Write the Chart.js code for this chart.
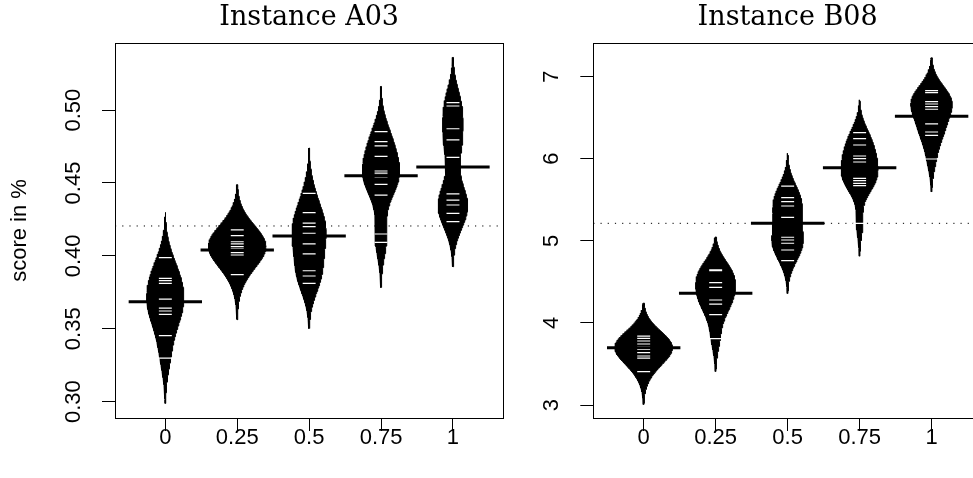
<!DOCTYPE html>
<html>
<head>
<meta charset="utf-8">
<script src="https://cdn.jsdelivr.net/npm/chart.js@4.4.0/dist/chart.umd.min.js"></script>
<style>
  html, body { margin: 0; padding: 0; background: #fff; overflow: hidden; width: 973px; height: 478px; }
  canvas { position: absolute; top: 0; }
  #graficoA { left: 0; }
  #graficoB { left: 530px; }
</style>
</head>
<body>
<canvas id="graficoA" width="530" height="478"></canvas>
<canvas id="graficoB" width="460" height="478"></canvas>
<script>
// categorias do eixo x (mesmas nos dois painéis)
var categorias = ['0', '0.25', '0.5', '0.75', '1'];

var obsA03_0    = [0.3988, 0.3846, 0.3830, 0.3812, 0.3704, 0.3641, 0.3622, 0.3599, 0.3453, 0.3298];
var obsA03_025  = [0.4178, 0.4139, 0.4097, 0.4082, 0.4063, 0.4050, 0.4045, 0.4022, 0.4006, 0.3871];
var obsA03_05   = [0.4429, 0.4296, 0.4224, 0.4200, 0.4155, 0.4082, 0.4013, 0.3898, 0.3862, 0.3812];
var obsA03_075  = [0.4852, 0.4783, 0.4754, 0.4683, 0.4582, 0.4567, 0.4553, 0.4541, 0.4491, 0.4416, 0.4150, 0.4093];
var obsA03_1    = [0.5051, 0.5028, 0.4872, 0.4795, 0.4676, 0.4425, 0.4383, 0.4349, 0.4292, 0.4235];
var mediasA03   = [0.3686, 0.4040, 0.4136, 0.4550, 0.4610];
var mediaGeralA03 = 0.4205;
var ticksA03    = [0.30, 0.35, 0.40, 0.45, 0.50];
var rotulosA03  = ['0.30', '0.35', '0.40', '0.45', '0.50'];

// Instance B08
var obsB08_0    = [3.840, 3.812, 3.780, 3.743, 3.710, 3.678, 3.637, 3.597, 3.572, 3.406];
var obsB08_025  = [4.645, 4.641, 4.637, 4.490, 4.434, 4.361, 4.279, 4.230, 4.100, 3.808];
var obsB08_05   = [5.667, 5.525, 5.476, 5.424, 5.286, 5.220, 5.043, 5.010, 4.970, 4.888, 4.758];
var obsB08_075  = [6.317, 6.244, 6.167, 6.033, 6.000, 5.960, 5.883, 5.761, 5.732, 5.700, 5.671, 5.213];
var obsB08_1    = [6.828, 6.804, 6.694, 6.666, 6.633, 6.602, 6.423, 6.325, 6.285, 5.996];
var mediasB08   = [3.698, 4.361, 5.213, 5.890, 6.516];
var mediaGeralB08 = 5.213;
var ticksB08    = [3, 4, 5, 6, 7];
var rotulosB08  = ['3', '4', '5', '6', '7'];

Chart.defaults.font.family = 'Liberation Sans';
Chart.defaults.color = '#000';

function densidade(obs, bw, y)
{
    var s = 0;
    for (var i = 0; i < obs.length; i++)
    {
        var z = (y - obs[i]) / bw;
        s += Math.exp(-0.5 * z * z);
    }
    return s / (obs.length * bw * Math.sqrt(2 * Math.PI));
}

// o feijão vai um pouco além da menor e da maior observação
function faixaFeijao(obs, corte)
{
    return [Math.min.apply(null, obs) - corte, Math.max.apply(null, obs) + corte];
}

function densidadeMaxima(obs, bw, corte)
{
    var f = faixaFeijao(obs, corte), m = 0;
    for (var i = 0; i <= 200; i++)
        m = Math.max(m, densidade(obs, bw, f[0] + (f[1] - f[0]) * i / 200));
    return m;
}

function contornoFeijao(obs, bw, corte, centro, escala)
{
    var f = faixaFeijao(obs, corte), n = 160, dir = [], esq = [];
    for (var i = 0; i <= n; i++)
    {
        var y = f[0] + (f[1] - f[0]) * i / n;
        var w = densidade(obs, bw, y) * escala;
        dir.push({x: centro + w, y: y});
        esq.unshift({x: centro - w, y: y});
    }
    return dir.concat(esq);
}

var caixa = {
    id: 'caixa',
    afterDraw: function (chart) {
        var a = chart.chartArea, ctx = chart.ctx;
        ctx.save();
        ctx.strokeStyle = '#000';
        ctx.lineWidth = 1;
        ctx.strokeRect(Math.round(a.left) + 0.5, Math.round(a.top) + 0.5,
                       Math.round(a.right - a.left), Math.round(a.bottom - a.top));
        ctx.restore();
    }
};

function gerarBeanplot(idCanvas, titulo, listaObs, medias, mediaGeral, bw, corte, yMin, yMax, yTicks, yRotulos, cfg)
{
    var escala = 0;
    listaObs.forEach(function (o) { escala = Math.max(escala, densidadeMaxima(o, bw, corte)); });
    escala = 0.4 / escala;

    var datasets = [];

    // linha pontilhada da média geral
    datasets.push({
        data: [{x: 0.3, y: mediaGeral}, {x: 5.7, y: mediaGeral}],
        showLine: true, borderColor: '#000', borderWidth: 1, borderDash: [1.2, 6],
        pointRadius: 0, order: 3
    });

    listaObs.forEach(function (obs, i) {
        datasets.push({
            data: contornoFeijao(obs, bw, corte, i + 1, escala),
            showLine: true, fill: 'shape', backgroundColor: '#000',
            borderColor: '#000', borderWidth: 1, pointRadius: 0, tension: 0, order: 2
        });
    });

    var linhasObs = [];
    listaObs.forEach(function (obs, i) {
        obs.forEach(function (v) {
            linhasObs.push({x: i + 1 - 0.09, y: v}, {x: i + 1 + 0.09, y: v}, {x: NaN, y: null});
        });
    });
    datasets.push({
        data: linhasObs, showLine: true, spanGaps: false,
        borderColor: '#fff', borderWidth: 1.2, pointRadius: 0, order: 1
    });

    var linhasMedia = [];
    medias.forEach(function (m, i) {
        linhasMedia.push({x: i + 1 - 0.51, y: m}, {x: i + 1 + 0.51, y: m}, {x: NaN, y: null});
    });
    datasets.push({
        data: linhasMedia, showLine: true, spanGaps: false,
        borderColor: '#000', borderWidth: 3, pointRadius: 0, order: 0
    });

    return new Chart(document.getElementById(idCanvas), {
        type: 'scatter',
        data: { datasets: datasets },
        plugins: [caixa],
        options: {
            responsive: false,
            animation: false,
            events: [],
            layout: { padding: { left: 0, right: cfg.direita, top: 0, bottom: 0 } },
            plugins: {
                legend: { display: false },
                tooltip: { enabled: false },
                title: {
                    display: true, text: titulo, fullSize: false,
                    font: { family: 'DejaVu Serif', size: 27, weight: 'normal' },
                    padding: { top: 1.3, bottom: 9.3 }
                }
            },
            scales: {
                x: {
                    type: 'linear', min: 0.3, max: 5.7,
                    afterBuildTicks: function (s) { s.ticks = categorias.map(function (c, i) { return {value: i + 1}; }); },
                    afterFit: function (s) { s.height = 60; },
                    ticks: {
                        font: { size: 22 }, padding: cfg.padX, maxRotation: 0, autoSkip: false,
                        callback: function (v, i) { return categorias[i]; }
                    },
                    grid: { drawOnChartArea: false, drawTicks: true, tickLength: 13, tickColor: '#000', lineWidth: 1 },
                    border: { display: false }
                },
                y: {
                    type: 'linear', min: yMin, max: yMax,
                    afterBuildTicks: function (s) { s.ticks = yTicks.map(function (v) { return {value: v}; }); },
                    afterFit: function (s) { s.width = cfg.larguraY; },
                    ticks: {
                        font: { size: 22 }, padding: cfg.padY, minRotation: 90, maxRotation: 90,
                        crossAlign: 'center',
                        callback: function (v, i) { return yRotulos[i]; }
                    },
                    title: cfg.tituloY ? {
                        display: true, text: cfg.tituloY, font: { size: 22 }, padding: { top: 6.8, bottom: 0 }
                    } : { display: false },
                    grid: { drawOnChartArea: false, drawTicks: true, tickLength: 13, tickColor: '#000', lineWidth: 1 },
                    border: { display: false }
                }
            }
        }
    });
}

gerarBeanplot('graficoA', 'Instance A03',
    [obsA03_0, obsA03_025, obsA03_05, obsA03_075, obsA03_1],
    mediasA03, mediaGeralA03, 0.013, 0.031, 0.2888, 0.546, ticksA03, rotulosA03,
    { direita: 26.7, larguraY: 115, padY: 6.6, padX: -6, tituloY: 'score in %' });

gerarBeanplot('graficoB', 'Instance B08',
    [obsB08_0, obsB08_025, obsB08_05, obsB08_075, obsB08_1],
    mediasB08, mediaGeralB08, 0.17, 0.40, 2.842, 7.409, ticksB08, rotulosB08,
    { direita: 8, larguraY: 63.3, padY: 22.2, padX: -6, tituloY: null });
</script>
</body>
</html>
